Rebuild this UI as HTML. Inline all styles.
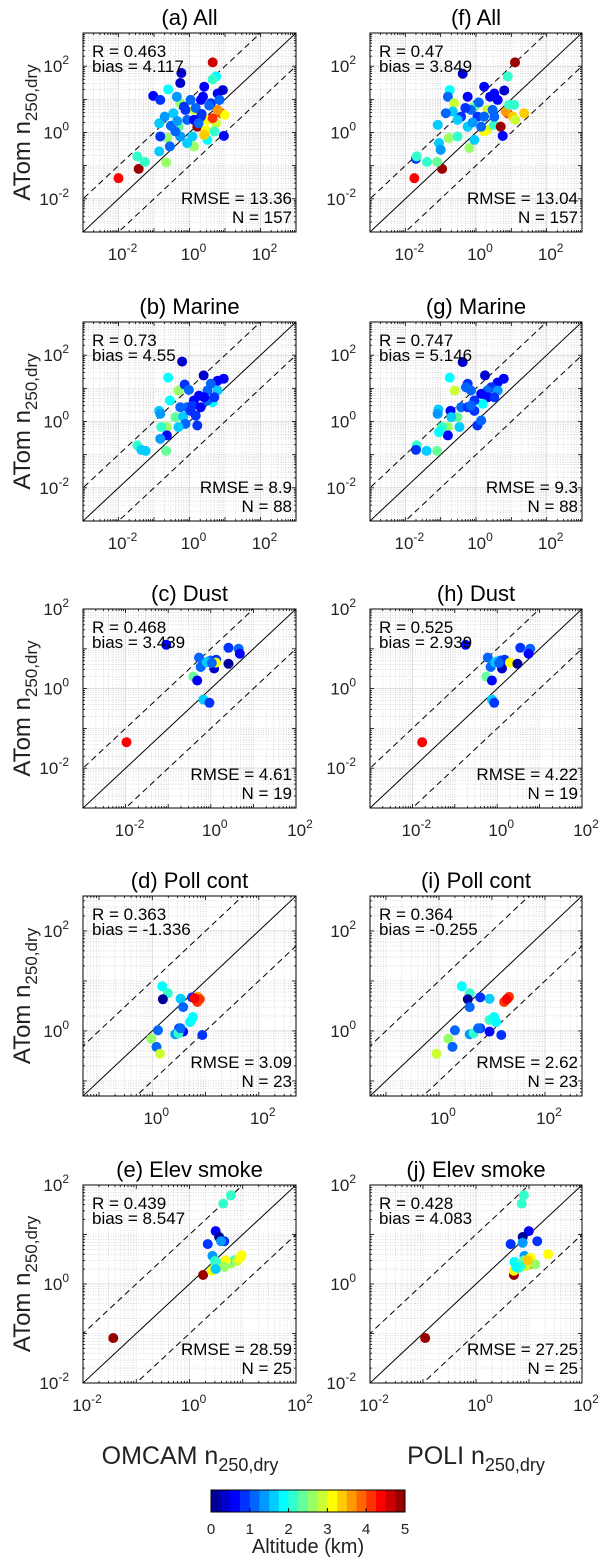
<!DOCTYPE html>
<html><head><meta charset="utf-8">
<style>
html,body{margin:0;padding:0;background:#fff;}
svg{display:block;font-family:"Liberation Sans",Arial,sans-serif;}
</style></head>
<body>
<svg id="fig" width="600" height="1558" viewBox="0 0 600 1558" xmlns="http://www.w3.org/2000/svg"></svg>
<script>
// ---------- DATA (x = satellite/model n250, y = ATom n250, alt = km) ----------
const aX=[4.5,0.01,0.037,0.59,0.095,0.25,0.034,0.055,0.22,0.14,0.14,0.24,0.55,0.35,0.5,0.86,1.33,1.66,2.6,5.6,4.5,7.8,9.7,9.3,6.2,3.2,5.6,2.9,1.33,3.2,6.2,8.7,0.77,1.07,0.44,2.1,4,0.55,0.86,0.4,0.28,0.15,0.2,2.1,1.33,1.2,2.6,5,7,0.55,0.15,4.5,0.7,1.5,2.4,3.6,0.3,0.45,1.8,2.2];
const aY=[130,0.042,0.08,62,12.7,20,0.19,0.13,0.125,1.9,0.27,0.68,7.6,3.8,1.5,2.4,4.8,1.5,24,49,40,3.8,3.4,0.79,4.8,2.4,1.9,1.2,0.38,0.6,15,19,4.8,9.6,12,9.6,7.6,0.76,0.48,1.07,0.38,0.76,3,3,2.4,0.76,0.85,1.07,9.6,31,9.6,2.7,6,5.5,12,6.5,1.6,2.2,1.9,3.6];
const aAlt=[4.7,4.3,4.8,0.3,0.7,1.8,2,2.1,2.5,1.7,1.5,2.6,2.7,1.6,2.4,1.2,2.8,4.9,0.5,1.9,2,4,3.2,0.5,3.7,3.2,2.9,3.0,2.6,1.8,0.6,0.4,0.9,1.0,1.3,0.7,0.8,1.4,1.7,1.1,1.0,0.8,1.3,0.9,0.6,1.5,3.3,2.2,1.2,0.4,0.9,4.1,0.8,1.0,0.7,1.1,1.2,1.4,1.0,0.9];

const fX=[12.7,0.018,0.11,0.42,0.02,0.021,0.041,0.079,0.18,0.16,0.24,0.22,0.083,0.09,0.1,0.17,0.3,0.65,0.58,0.9,2.1,2.1,1.7,3.2,5,5.7,7.9,7,11,23,13,8.6,12,7.9,6.3,1.7,3.3,0.58,1.1,0.72,0.38,1.7,4.1,2.95,0.9,1.4,3.3,0.3,0.14,0.5,1.2,2.5,0.8];
const fY=[130,0.042,0.08,59,0.16,0.19,0.13,0.13,19,12,7.6,4.3,1.7,0.48,0.3,0.68,0.76,0.34,1.5,6,4.8,1.2,1.07,1.7,1.5,0.79,3.8,4.3,3,3.8,2.4,6.8,6.8,49,18.5,24,15,12,3,4.8,3,3,9.6,4.8,0.6,1.5,3,2.4,3.8,5.5,8,12,2];
const fAlt=[4.8,4.4,4.8,0.3,0.9,2.0,2.1,2.4,1.8,1.0,2.8,1.6,1.7,1.6,1.3,2.6,2.0,2.7,1.7,2.3,2.8,2.8,3.1,2.0,4.8,0.5,4.0,3.7,3.3,3.4,2.8,2.1,2.0,2.0,0.4,0.5,0.6,0.7,0.8,1.0,0.9,1.0,0.7,1.2,1.5,1.2,1.1,1.5,1.1,0.8,1.0,0.6,1.3];

const bX=[0.62,0.25,0.49,0.73,0.96,2.5,9.2,6.2,4,3.2,1.85,1.33,4.5,6.2,0.28,0.14,0.15,0.4,0.66,0.55,0.86,1.2,2.07,1.66,0.77,0.49,0.23,0.16,0.23,0.15,0.034,0.044,0.058,0.22,3.2,2.6,5,1.07,1.5];
const bY=[64,21,8.6,13,9,24.5,19.5,17,13.7,8.6,6,4.3,3.8,8.6,4.3,2.1,1.7,1.35,1.4,2.7,2.7,3,2.7,0.76,0.85,0.68,0.68,0.68,0.38,0.3,0.19,0.14,0.13,0.13,4.3,5.4,5.4,2.1,1.5];
const bAlt=[0.4,1.8,2.7,0.8,1.0,0.4,0.5,0.6,1.0,1.2,0.7,0.6,1.9,1.5,1.8,1.6,1.4,2.4,1.5,1.2,1.1,0.8,0.6,0.9,1.1,1.7,2.7,2.0,0.6,1.3,2.0,1.6,1.7,2.4,1.1,0.5,0.9,0.8,0.9];

const gX=[0.42,0.18,0.25,0.58,0.72,1.8,6.1,4.1,2.7,2.1,1.4,2.1,1.55,4.1,0.52,0.086,0.082,0.19,0.3,0.2,0.38,0.58,0.9,1.1,1.4,0.34,0.16,0.11,0.16,0.09,0.021,0.02,0.04,0.079,0.9,3.3,0.72];
const gY=[62,21,8.6,13.7,8.6,24.5,19.5,15,10.8,8.6,6.8,5.4,3.4,8.6,10.8,2.3,1.7,2.1,1.35,1.35,2.7,2.7,2.1,0.76,1.07,0.68,0.68,0.68,0.38,0.48,0.19,0.14,0.13,0.13,4.3,5.4,3];
const gAlt=[0.3,1.8,2.8,0.8,1.0,0.4,0.5,0.6,0.9,1.1,0.6,0.5,1.9,1.4,1.2,1.6,1.4,0.7,2.4,1.5,1.2,0.9,0.8,0.9,1.1,1.7,2.7,2.0,0.6,1.8,2.0,0.9,1.7,2.4,0.9,0.8,1.1];

const cX=[0.0105,0.09,0.53,0.58,0.39,0.48,0.88,1.0,1.34,1.2,1.32,2.6,4.5,4.8,2.6,0.67,0.93,0.8,1.06];
const cY=[0.045,12.6,6,3.5,2.0,1.6,4.8,5.1,5.3,3.2,4.5,10.6,10,7.5,4.2,0.53,0.44,4.6,4.4];
const cAlt=[4.4,0.5,1.1,1.0,2.3,0.7,1.4,1.2,0.9,0.4,3.0,0.9,1.1,0.5,0.2,1.7,0.9,1.5,1.0];

const hX=[0.017,0.18,0.6,0.7,0.55,0.75,1.0,1.2,1.5,1.3,2.0,3.5,6,5.5,3.0,0.75,0.85,0.9,1.1];
const hY=[0.045,12.6,6,3.5,2.0,1.6,4.8,5.1,5.3,3.2,4.5,10.6,10,7.5,4.2,0.53,0.44,4.6,4.4];
const hAlt=[4.4,0.5,1.1,1.0,2.3,0.7,1.4,1.2,0.9,0.4,3.0,0.9,1.1,0.5,0.2,1.7,0.9,1.5,1.0];

const dX=[1.54,1.96,1.58,3.4,3.8,5.6,7.2,7.8,7,5.5,5.8,3.2,3.8,2.7,3.1,1.28,0.96,1.2,1.4,8.7,3.4,5.1,6.2];
const dY=[7.8,5.7,4.3,4.4,3.0,4.7,4.8,4.3,3.8,1.66,1.9,1.13,0.97,0.86,0.9,1.03,0.7,0.48,0.35,0.83,1.13,1.5,4.5];
const dAlt=[1.9,2.0,0.2,1.7,1.0,0.8,3.7,4.0,4.2,2.0,1.9,0.8,0.5,1.3,2.0,1.0,2.5,1.1,2.8,0.8,1.2,1.8,4.3];

const iX=[2.7,3.8,3.5,9,6,20,21,17,9,11,6,9,3.8,4.5,2,1.5,1.8,0.9,15,5.5,12,3.8,19];
const iY=[7.8,5.7,4.3,4.4,4.7,4.5,4.8,3.8,1.66,1.9,1.13,0.97,0.86,0.9,1.03,0.7,0.48,0.35,0.83,1.13,1.5,3.0,4.3];
const iAlt=[1.9,2.0,0.2,1.7,0.8,3.7,4.0,4.2,2.0,1.9,0.8,0.5,1.3,2.0,1.0,2.5,1.1,2.8,0.8,1.2,1.8,1.0,4.3];

const eX=[0.037,1.8,6,4.3,3.1,3.6,4.5,2.2,3.9,2.7,2.6,3.0,3.3,4.0,4,6,6.9,7.8,9,9.5,4.8,3.2,4.5,3,3.1];
const eY=[0.081,1.52,62,42,11.7,8.9,7.3,6.4,7.3,3.7,1.86,2.2,2.2,2.4,2.6,2.6,3.0,2.9,3.4,3.8,3.0,2.1,2.2,2.9,2.0];
const eAlt=[4.8,4.8,2.0,2.0,0.5,0.1,0.8,0.9,1.3,1.4,3.2,2.7,1.8,4.0,2.3,2.6,2.1,2.8,3.2,3.1,3.0,3.1,2.6,2.0,1.7];

const jX=[0.11,5.2,8,7.3,9.9,7.6,7.6,4.5,14.3,8.2,5.3,6.6,6.6,8.0,10.6,10.2,13.2,23,5.2,6.3,8,8.8,7.1,9.5,5.7];
const jY=[0.081,1.52,62,42,11.7,8.9,6.8,6.4,7.3,3.7,2.8,2.2,2.4,3.0,3.4,2.5,2.5,4.0,1.86,2.1,2.7,2.3,2.4,3.0,2.2];
const jAlt=[4.8,4.8,2.0,2.0,0.5,0.1,1.3,0.9,0.8,1.4,1.8,2.0,2.7,2.4,3.2,3.9,2.6,3.1,3.2,2.2,2.5,2.9,2.1,3.3,1.9];

const statR=["0.463","0.73","0.468","0.363","0.439","0.47","0.747","0.525","0.364","0.428"];
const statBias=["4.117","4.55","3.439","-1.336","8.547","3.849","5.146","2.939","-0.255","4.083"];
const statRMSE=["13.36","8.9","4.61","3.09","28.59","13.04","9.3","4.22","2.62","27.25"];
const statN=["157","88","19","23","25","157","88","19","23","25"];
const titles=["(a) All","(b) Marine","(c) Dust","(d) Poll cont","(e) Elev smoke","(f) All","(g) Marine","(h) Dust","(i) Poll cont","(j) Elev smoke"];
const cbTicks=[0,1,2,3,4,5];

// ---------- helpers ----------
const NS="http://www.w3.org/2000/svg";
const svg=document.getElementById('fig');
function mk(tag,attrs,parent){const e=document.createElementNS(NS,tag);for(const k in attrs)e.setAttribute(k,attrs[k]);(parent||svg).appendChild(e);return e;}
function jet(v){let t=Math.max(0,Math.min(1,v/5));t=Math.min(0.999,Math.floor(t*20)/20+0.025);
 const c=x=>Math.round(255*Math.max(0,Math.min(1,1.5-Math.abs(x))));
 return `rgb(${c(4*t-3)},${c(4*t-2)},${c(4*t-1)})`;}

const rowsY=[[33,232],[322,521],[609,808],[896,1096],[1185,1383]];
const colsX=[[83,296],[370,582]];
const ranges=[[-3,3,[-2,0,2]],[-3,3,[-2,0,2]],[-3,2,[-2,0,2]],[Math.log10(0.05),Math.log10(500),[0,2]],[-2,2,[-2,0,2]]];
const datasets=[[aX,aY,aAlt],[bX,bY,bAlt],[cX,cY,cAlt],[dX,dY,dAlt],[eX,eY,eAlt],[fX,fY,fAlt],[gX,gY,gAlt],[hX,hY,hAlt],[iX,iY,iAlt],[jX,jY,jAlt]];
const letters="abcdefghij";

function drawPanel(idx){
 const col=Math.floor(idx/5),row=idx%5;
 const [x0,x1]=colsX[col],[y0,y1]=rowsY[row];
 const [lo,hi,labs]=ranges[row];
 const sx=v=>x0+(Math.log10(v)-lo)/(hi-lo)*(x1-x0);
 const sy=v=>y1-(Math.log10(v)-lo)/(hi-lo)*(y1-y0);
 const g=mk('g',{});
 
 
 const cid='clip'+idx;
 const cp=mk('clipPath',{id:cid},g);mk('rect',{x:x0,y:y0,width:x1-x0,height:y1-y0},cp);
 const grid=mk('g',{'clip-path':`url(#${cid})`},g);
 
 
 const d0=Math.floor(lo),d1=Math.ceil(hi);
 for(let d=d0;d<=d1;d++){for(let m=1;m<=9;m++){const v=m*Math.pow(10,d);const lv=Math.log10(v);if(lv<lo-1e-9||lv>hi+1e-9)continue;
  const major=(m===1&&labs.includes(d));
  const X=sx(v),Y=sy(v);
  const st=major?{stroke:'#d6d6d6','stroke-width':0.8}:{stroke:'#c8c8c8','stroke-width':0.6,'stroke-dasharray':'1,1.5'};
  mk('line',Object.assign({x1:X,x2:X,y1:y0,y2:y1},st),grid);
  mk('line',Object.assign({y1:Y,y2:Y,x1:x0,x2:x1},st),grid);
  const tl=(m===1)?4:2;
  mk('line',{x1:X,x2:X,y1:y1,y2:y1-tl,stroke:'#000','stroke-width':0.8},g);
  mk('line',{x1:X,x2:X,y1:y0,y2:y0+tl,stroke:'#000','stroke-width':0.8},g);
  mk('line',{y1:Y,y2:Y,x1:x0,x2:x0+tl,stroke:'#000','stroke-width':0.8},g);
  mk('line',{y1:Y,y2:Y,x1:x1,x2:x1-tl,stroke:'#000','stroke-width':0.8},g);
 }}
 const L=Math.pow(10,lo-1),H=Math.pow(10,hi+1);
 const lines=mk('g',{'clip-path':`url(#${cid})`},g);
 mk('line',{x1:sx(L),y1:sy(L),x2:sx(H),y2:sy(H),stroke:'#000','stroke-width':1},lines);
 mk('line',{x1:sx(L),y1:sy(L*10),x2:sx(H),y2:sy(H*10),stroke:'#000','stroke-width':1,'stroke-dasharray':'6,4'},lines);
 mk('line',{x1:sx(L),y1:sy(L/10),x2:sx(H),y2:sy(H/10),stroke:'#000','stroke-width':1,'stroke-dasharray':'6,4'},lines);
 const [X,Y,A]=datasets[idx];
 const pts=mk('g',{},g);
 for(let k=0;k<X.length;k++){
  const c=mk('circle',{cx:sx(X[k]),cy:sy(Y[k]),r:5,fill:jet(A[k])},pts);
  
  
 }
 mk('rect',{x:x0,y:y0,width:x1-x0,height:y1-y0,fill:'none',stroke:'#000','stroke-width':1},g);
 labs.forEach(d=>{
  const t=mk('text',{x:sx(Math.pow(10,d))+4,y:y1+28,'text-anchor':'middle','font-size':17,fill:'#222'},g);
  
  
  t.innerHTML=`10<tspan dy="-8" font-size="12">${d}</tspan>`;
  const u=mk('text',{x:x0-14,y:sy(Math.pow(10,d))+6,'text-anchor':'end','font-size':17,fill:'#222'},g);
  
  
  u.innerHTML=`10<tspan dy="-8" font-size="12">${d}</tspan>`;
 });
 const ti=mk('text',{x:(x0+x1)/2,y:y0-8,'text-anchor':'middle','font-size':22},g);
 
 
 ti.textContent=titles[idx];
 const s1=mk('text',{x:x0+9,y:y0+24,'font-size':17},g);s1.textContent='R = '+statR[idx];
 
 
 const s2=mk('text',{x:x0+9,y:y0+39,'font-size':17},g);s2.textContent='bias = '+statBias[idx];
 
 
 const s3=mk('text',{x:x1-4,y:y1-28,'font-size':17,'text-anchor':'end'},g);s3.textContent='RMSE = '+statRMSE[idx];
 
 
 const s4=mk('text',{x:x1-4,y:y1-9,'font-size':17,'text-anchor':'end'},g);s4.textContent='N = '+statN[idx];
 
 
 if(col===0){
  const cy=(y0+y1)/2;
  const yl=mk('text',{x:0,y:0,'font-size':24,'text-anchor':'middle',fill:'#222',transform:`translate(30,${cy}) rotate(-90)`},g);
  
  
  yl.innerHTML='ATom n<tspan dy="7" font-size="17">250,dry</tspan>';
 }
}
for(let i=0;i<10;i++)drawPanel(i);

const xt1=mk('text',{x:190,y:1464,'text-anchor':'middle','font-size':25,fill:'#222'});


xt1.innerHTML='OMCAM n<tspan dy="7" font-size="18">250,dry</tspan>';
const xt2=mk('text',{x:476,y:1464,'text-anchor':'middle','font-size':25,fill:'#222'});


xt2.innerHTML='POLI n<tspan dy="7" font-size="18">250,dry</tspan>';

const cb=mk('g',{});


const cbx0=211,cbx1=405,cby0=1490,cby1=1512,nb=20;
for(let k=0;k<nb;k++){
 const r=mk('rect',{x:cbx0+k*(cbx1-cbx0)/nb,y:cby0,width:(cbx1-cbx0)/nb+0.5,height:cby1-cby0,fill:jet((k+0.5)*5/nb)},cb);
 
}
mk('rect',{x:cbx0,y:cby0,width:cbx1-cbx0,height:cby1-cby0,fill:'none',stroke:'#000','stroke-width':1},cb);
cbTicks.forEach(v=>{
 const X=cbx0+v/5*(cbx1-cbx0);
 mk('line',{x1:X,x2:X,y1:cby1,y2:cby1-4,stroke:'#000'},cb);
 const t=mk('text',{x:X,y:1534,'text-anchor':'middle','font-size':15,fill:'#222'},cb);
 
 t.textContent=v;
});
const at=mk('text',{x:308,y:1553,'text-anchor':'middle','font-size':20,fill:'#222'});


at.textContent='Altitude (km)';
</script>
</body></html>
